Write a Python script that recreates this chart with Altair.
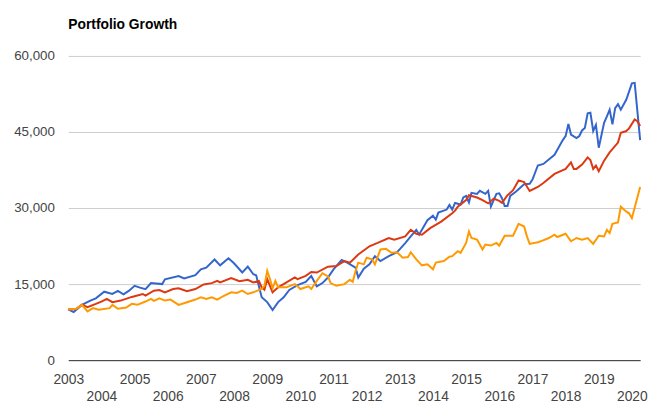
import altair as alt
import pandas as pd

# months since Jan 2003 and portfolio values
blue_idx = [0, 2, 5, 8, 10, 13, 16, 18, 20, 22, 24, 26, 28, 30, 34, 35, 40, 42, 46, 48,
            50, 53, 55, 58, 60, 63, 65, 67, 68, 70, 72, 74, 76, 78, 80, 83, 86, 88, 90, 92,
            94, 96, 99, 101, 104, 105, 107, 109, 111, 113, 116, 119, 120, 122, 124, 126, 127, 128, 130, 132,
            133, 134, 137, 138, 139, 140, 142, 143, 144, 145, 146, 148, 149, 151, 152, 153, 155, 156, 157, 158,
            159, 160, 162, 165, 167, 168, 170, 172, 176, 179, 180, 181, 182, 184, 185, 186, 187, 188, 189, 190,
            191, 192, 194, 195, 196, 197, 198, 199, 200, 202, 204, 205, 207]
blue_val = [10000, 9500, 10900, 11750, 12200, 13500, 13050, 13650, 13000, 13700, 14650, 14300, 14000, 15200, 15000, 15950, 16600, 16100, 16750, 17900,
            18250, 19850, 18700, 20100, 19100, 17300, 18450, 16950, 16750, 12400, 11450, 9900, 11450, 12400, 13850, 14800, 15450, 16600, 14550, 15200,
            16300, 17900, 19750, 19250, 18250, 16300, 18050, 18900, 20500, 19550, 20500, 21300, 21900, 23100, 24400, 25700, 24750, 25700, 27600, 28500,
            27700, 29100, 29700, 30600, 29700, 31000, 30700, 32100, 32400, 31100, 33000, 32800, 33400, 32800, 33400, 30300, 32800, 32900, 31900, 30400,
            30400, 32400, 33200, 34700, 34800, 35600, 38400, 38700, 40500, 43400, 44200, 46600, 44500, 43800, 44200, 45300, 45800, 48700, 48800, 45200,
            46400, 41900, 46800, 48100, 49400, 46500, 49700, 50500, 49400, 51400, 54600, 54700, 43400]

red_idx = [0, 3, 5, 7, 10, 12, 14, 16, 19, 23, 27, 28, 31, 33, 35, 38, 40, 43, 46, 49,
           52, 54, 55, 59, 62, 65, 67, 69, 70, 71, 72, 74, 76, 79, 82, 83, 86, 88, 90, 94,
           97, 100, 102, 105, 109, 112, 116, 118, 122, 124, 126, 128, 131, 135, 139, 140, 141, 144, 145, 148,
           150, 152, 154, 156, 157, 159, 161, 163, 165, 167, 170, 172, 176, 180, 182, 183, 184, 186, 188, 189,
           190, 191, 192, 194, 196, 199, 200, 202, 203, 205, 206, 207]
red_val = [10000, 10130, 10970, 10460, 11100, 11560, 12080, 11430, 11750, 12470, 13050, 12720, 13700, 13830, 13380, 14030, 14160, 13580, 14030, 14940,
           15190, 15640, 15320, 16170, 15580, 15840, 15320, 15640, 14360, 13890, 15970, 13380, 14360, 15320, 16300, 15970, 16620, 17400, 17280, 18440,
           18570, 19540, 19230, 20840, 22460, 23120, 24090, 23770, 24410, 25710, 24930, 24740, 26040, 27330, 28960, 29480, 30250, 31560, 32530, 32080,
           31560, 30920, 31870, 31420, 31030, 32530, 33510, 35450, 35130, 33370, 34150, 34930, 36740, 37720, 39010, 37720, 37720, 38570, 39990, 39490,
           37720, 38380, 37270, 39350, 40970, 42920, 44860, 45190, 45710, 47470, 47140, 46170]

orange_idx = [0, 3, 5, 7, 9, 11, 15, 16, 18, 21, 23, 25, 28, 30, 31, 33, 35, 37, 40, 43,
              46, 48, 50, 52, 54, 56, 59, 61, 63, 65, 67, 70, 71, 72, 73, 74, 75, 76, 79, 82,
              83, 84, 87, 88, 90, 92, 94, 95, 97, 100, 102, 103, 104, 105, 107, 108, 110, 111, 113, 115,
              117, 119, 121, 123, 124, 126, 128, 130, 132, 133, 136, 138, 139, 141, 142, 144, 145, 146, 148, 150,
              151, 153, 155, 156, 158, 161, 163, 165, 166, 167, 170, 171, 174, 176, 177, 180, 182, 184, 186, 188,
              190, 192, 194, 195, 196, 197, 199, 200, 202, 203, 204, 207]
orange_val = [10000, 10130, 10910, 9610, 10260, 9930, 10260, 10910, 10130, 10390, 11100, 10910, 11560, 12080, 11690, 12210, 11750, 11950, 10910, 11430,
              11950, 12400, 12080, 12400, 11950, 12600, 13380, 13250, 13700, 13050, 13380, 14030, 14670, 17600, 15970, 14160, 15640, 14360, 14360, 15000,
              14550, 14030, 14550, 14030, 15640, 17140, 16500, 15190, 14670, 15000, 15840, 15450, 17600, 19230, 18900, 20200, 19870, 18900, 21820, 21950,
              21170, 21290, 20200, 20330, 21290, 19870, 18700, 18900, 17920, 19230, 19540, 20390, 20510, 21490, 21170, 23120, 25380, 24090, 23770, 21820,
              22790, 22600, 23120, 22600, 24540, 24540, 26880, 26360, 24410, 22930, 23250, 23440, 24090, 24740, 24290, 24930, 23440, 24090, 23770, 24090,
              22930, 24540, 24410, 25710, 25070, 26880, 27140, 30250, 29280, 28960, 27990, 34150]

series_names = ["Portfolio 1", "Portfolio 2", "Portfolio 3"]
series_colors = ["#3366cc", "#dc3912", "#ff9900"]
year_ticks = list(range(2003, 2021))
y_ticks = [0, 15000, 30000, 45000, 60000]


def month_str(i):
    return f"{2003 + i // 12}-{i % 12 + 1:02d}-01T00:00:00"


rows = []
for name, idxs, vals in zip(series_names,
                            [blue_idx, red_idx, orange_idx],
                            [blue_val, red_val, orange_val]):
    for i, v in zip(idxs, vals):
        rows.append({"date": month_str(i), "value": v, "series": name, "order": i})
df = pd.DataFrame(rows)

FONT = "Liberation Sans"

chart = alt.Chart(df).mark_line(strokeWidth=2).encode(
    x=alt.X(
        "date:T",
        scale=alt.Scale(domain=[alt.DateTime(year=2003, month=1, date=1),
                                alt.DateTime(year=2020, month=4, date=1)]),
        axis=alt.Axis(
            title=None,
            values=[alt.DateTime(year=y, month=1, date=1) for y in year_ticks],
            format="%Y",
            labelExpr="year(datum.value) % 2 == 1 ? datum.label : ['', datum.label]",
            labelLineHeight=17,
            labelFont=FONT,
            labelFontSize=14,
            labelColor="#444444",
            labelPadding=13,
            labelAngle=0,
            labelOverlap=False,
            labelFlush=False,
            ticks=False,
            grid=False,
            domain=True,
            domainColor="#333333",
            domainWidth=1,
        ),
    ),
    y=alt.Y(
        "value:Q",
        scale=alt.Scale(domain=[0, 60000], nice=False),
        axis=alt.Axis(
            title=None,
            values=y_ticks,
            format=",d",
            labelFont=FONT,
            labelFontSize=13.5,
            labelColor="#444444",
            labelPadding=14,
            ticks=False,
            domain=False,
            grid=True,
            gridColor="#cccccc",
            gridWidth=1,
        ),
    ),
    color=alt.Color("series:N",
                    scale=alt.Scale(domain=series_names, range=series_colors),
                    legend=None),
    order="order:Q",
).properties(
    width=579,
    height=308,
    padding={"left": 61, "top": 46, "right": 11, "bottom": 53},
    autosize=alt.AutoSizeParams(type="none"),
    title=alt.TitleParams(
        "Portfolio Growth",
        anchor="start",
        frame="group",
        font=FONT,
        fontSize=14,
        fontWeight="bold",
        color="#000000",
        baseline="alphabetic",
        offset=6,
    ),
).configure_view(stroke=None)

chart.save("out.html", embed_options={"renderer": "svg", "actions": False})
